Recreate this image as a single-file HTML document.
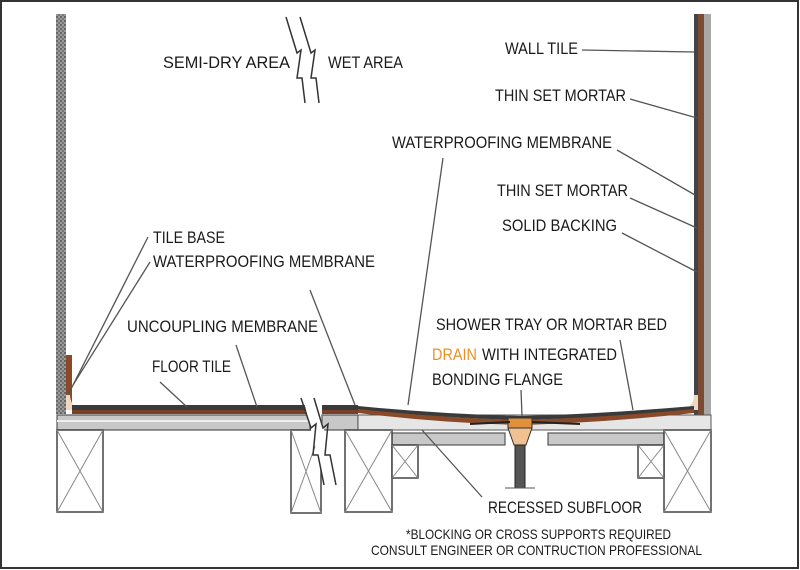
<!DOCTYPE html>
<html><head><meta charset="utf-8"><style>
html,body{margin:0;padding:0;background:#fff}
svg{display:block}
text{font-family:"Liberation Sans",sans-serif;font-size:17px;fill:#1a1a1a}
</style></head><body>
<svg width="800" height="570" viewBox="0 0 800 570" xmlns="http://www.w3.org/2000/svg">
<defs>
<pattern id="dots" width="4" height="4" patternUnits="userSpaceOnUse">
<rect width="4" height="4" fill="#9a9a9a"/><rect width="2" height="2" fill="#666"/><rect x="2" y="2" width="2" height="2" fill="#777"/>
</pattern>
</defs>
<rect x="1" y="1" width="797" height="567" fill="#fff" stroke="#333" stroke-width="2"/>

<!-- left wall -->
<rect x="56" y="14" width="10" height="400" fill="url(#dots)"/>
<rect x="66" y="355" width="6" height="52" fill="#8a4a2a"/>
<path d="M66 395 L66 410 L80 410 Q70 405 70 395 Z" fill="#f0d8c0"/>
<!-- right wall -->
<rect x="694" y="14" width="4" height="416" fill="#444"/>
<rect x="698" y="14" width="6" height="416" fill="#7a4a32"/>
<rect x="704" y="14" width="7" height="416" fill="#a8a8a8"/>
<path d="M698 395 L698 410 L684 410 Q694 405 694 395 Z" fill="#f0d8c0"/>

<!-- left floor tile -->
<rect x="72" y="405" width="240" height="5" fill="#3a3a3a"/>
<rect x="72" y="410" width="240" height="4" fill="#7a4028"/>
<rect x="322" y="405" width="36" height="5" fill="#3a3a3a"/>
<rect x="322" y="410" width="36" height="4" fill="#7a4028"/>
<!-- subfloor left -->
<rect x="57" y="415" width="253" height="15" fill="#c8c8c8" stroke="#555" stroke-width="1.2"/>
<line x1="57" y1="421" x2="310" y2="421" stroke="#eee" stroke-width="2"/>
<rect x="322" y="415" width="36" height="15" fill="#c8c8c8" stroke="#555" stroke-width="1.2"/>
<!-- mortar bed / tray area -->
<path d="M358 415 L358 430 L711 430 L711 415 Z" fill="#e6e6e6" stroke="#555" stroke-width="1"/>
<path d="M358 408 Q440 418 520 420 Q600 418 694 408 L694 413 Q600 423 520 425 Q440 423 358 413 Z" fill="#8a4a2a"/>
<path d="M358 406 Q440 414 520 416 Q600 414 694 406 L694 409 Q600 418 520 420 Q440 418 358 409 Z" fill="#3a3a3a"/>
<!-- recessed subfloor beams -->
<rect x="392" y="433" width="113" height="12" fill="#c8c8c8" stroke="#555" stroke-width="1.2"/>
<rect x="548" y="433" width="116" height="12" fill="#c8c8c8" stroke="#555" stroke-width="1.2"/>
<!-- drain -->
<rect x="508" y="418" width="24" height="10" fill="#e0903a" stroke="#333"/>
<path d="M508 428 L532 428 L526 445 L514 445 Z" fill="#f0c090" stroke="#333"/>
<rect x="515" y="445" width="10" height="43" fill="#555" stroke="#222"/>
<line x1="505" y1="488" x2="535" y2="488" stroke="#555"/>
<line x1="470" y1="424" x2="510" y2="422" stroke="#222" stroke-width="2"/>
<line x1="532" y1="422" x2="580" y2="424" stroke="#222" stroke-width="2"/>

<!-- joists -->
<g fill="#fff" stroke="#444" stroke-width="1.5">
<rect x="57" y="430" width="46" height="82"/>
<rect x="291" y="430" width="30" height="83"/>
<rect x="345" y="430" width="47" height="82"/>
<rect x="664" y="430" width="47" height="82"/>
<rect x="392" y="445" width="26" height="33"/>
<rect x="638" y="445" width="26" height="33"/>
</g>
<g stroke="#888" stroke-width="1">
<path d="M57 430 L103 512 M103 430 L57 512"/>
<path d="M291 430 L321 513 M321 430 L291 513"/>
<path d="M345 430 L392 512 M392 430 L345 512"/>
<path d="M664 430 L711 512 M711 430 L664 512"/>
<path d="M392 445 L418 478 M418 445 L392 478"/>
<path d="M638 445 L664 478 M664 445 L638 478"/>
</g>

<!-- floor break -->
<path d="M303 398 L316 398 L338 485 L325 485 Z" fill="#fff"/>
<g stroke="#333" stroke-width="1.5" fill="none">
<path d="M301 398 L311 428 L316 424 L313 455 L318 455 L324 485"/>
<path d="M314 398 L323 428 L328 424 L325 455 L330 455 L336 485"/>
</g>
<!-- wall break -->
<g stroke="#333" stroke-width="1.5" fill="none">
<path d="M286 17 L297 53 L301 50 L297 78 L302 78 L305 103"/>
<path d="M300 17 L311 53 L315 50 L311 78 L316 78 L319 103"/>
</g>

<!-- leader lines -->
<g stroke="#555" stroke-width="1.3">
<line x1="582" y1="50" x2="694" y2="52"/>
<line x1="630" y1="99" x2="697" y2="118"/>
<line x1="617" y1="150" x2="695" y2="195"/>
<line x1="443" y1="158" x2="408" y2="405"/>
<line x1="630" y1="198" x2="697" y2="228"/>
<line x1="622" y1="233" x2="697" y2="272"/>
<line x1="148" y1="237" x2="68" y2="395"/>
<line x1="150" y1="262" x2="73" y2="385"/>
<line x1="310" y1="290" x2="355" y2="405"/>
<line x1="236" y1="345" x2="257" y2="407"/>
<line x1="160" y1="382" x2="187" y2="407"/>
<line x1="620" y1="340" x2="633" y2="410"/>
<line x1="521" y1="390" x2="522" y2="416"/>
<line x1="482" y1="497" x2="422" y2="430"/>
</g>

<!-- labels -->
<g>
<text x="163" y="68" textLength="127" lengthAdjust="spacingAndGlyphs">SEMI-DRY AREA</text>
<text x="328" y="68" textLength="75" lengthAdjust="spacingAndGlyphs">WET AREA</text>
<text x="505" y="54" textLength="73" lengthAdjust="spacingAndGlyphs">WALL TILE</text>
<text x="495" y="101" textLength="131" lengthAdjust="spacingAndGlyphs">THIN SET MORTAR</text>
<text x="392" y="148" textLength="220" lengthAdjust="spacingAndGlyphs">WATERPROOFING MEMBRANE</text>
<text x="497" y="196" textLength="131" lengthAdjust="spacingAndGlyphs">THIN SET MORTAR</text>
<text x="502" y="231" textLength="115" lengthAdjust="spacingAndGlyphs">SOLID BACKING</text>
<text x="153" y="243" textLength="72" lengthAdjust="spacingAndGlyphs">TILE BASE</text>
<text x="153" y="267" textLength="222" lengthAdjust="spacingAndGlyphs">WATERPROOFING MEMBRANE</text>
<text x="127" y="332" textLength="191" lengthAdjust="spacingAndGlyphs">UNCOUPLING MEMBRANE</text>
<text x="152" y="372" textLength="79" lengthAdjust="spacingAndGlyphs">FLOOR TILE</text>
<text x="436" y="330" textLength="231" lengthAdjust="spacingAndGlyphs">SHOWER TRAY OR MORTAR BED</text>
<text x="432" y="360" textLength="45" lengthAdjust="spacingAndGlyphs" style="fill:#e8922a">DRAIN</text>
<text x="482" y="360" textLength="135" lengthAdjust="spacingAndGlyphs">WITH INTEGRATED</text>
<text x="432" y="385" textLength="131" lengthAdjust="spacingAndGlyphs">BONDING FLANGE</text>
<text x="488" y="513" textLength="154" lengthAdjust="spacingAndGlyphs">RECESSED SUBFLOOR</text>
<text x="406" y="539" textLength="265" lengthAdjust="spacingAndGlyphs" style="font-size:14px">*BLOCKING OR CROSS SUPPORTS REQUIRED</text>
<text x="371" y="555" textLength="331" lengthAdjust="spacingAndGlyphs" style="font-size:14px">CONSULT ENGINEER OR CONTRUCTION PROFESSIONAL</text>
</g>
</svg>
</body></html>
